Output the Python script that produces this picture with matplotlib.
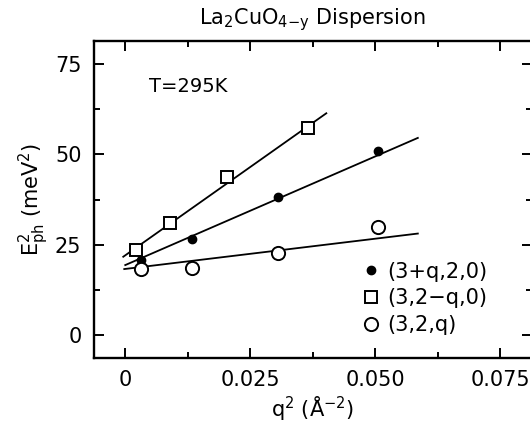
import matplotlib
matplotlib.use("Agg")
import matplotlib.pyplot as plt
import numpy as np
from matplotlib.ticker import MultipleLocator, FixedFormatter, FixedLocator

# data
filled_x = [0.0031, 0.0133, 0.0305, 0.0505]
filled_y = [20.9, 26.5, 38.2, 51.0]
square_x = [0.0021, 0.0090, 0.0204, 0.0365]
square_y = [23.5, 30.9, 43.8, 57.1]
open_x = [0.0031, 0.0133, 0.0305, 0.0505]
open_y = [18.4, 18.7, 22.6, 30.0]

# fit lines (endpoints)
fit_filled_x = [0.0000, 0.0585]
fit_filled_y = [19.4, 54.5]
fit_square_x = [-0.0004, 0.0402]
fit_square_y = [21.7, 61.3]
fit_open_x = [-0.0002, 0.0585]
fit_open_y = [18.3, 28.1]

labels = ["(3+q,2,0)", "(3,2\u2212q,0)", "(3,2,q)"]
xticks = [0, 0.025, 0.050, 0.075]
xticklabels = ["0", "0.025", "0.050", "0.075"]
yticks = [0, 25, 50, 75]
yticklabels = ["0", "25", "50", "75"]

plt.rcParams['font.family'] = ['DejaVu Sans']
plt.rcParams['mathtext.fontset'] = 'dejavusans'

fig = plt.figure(figsize=(5.30, 4.29), dpi=100)
ax = fig.add_axes([94/530, 1-358/429, (531.6-94)/530, (358-41)/429])

lw = 1.3
ax.plot(fit_filled_x, fit_filled_y, color='black', lw=lw)
ax.plot(fit_square_x, fit_square_y, color='black', lw=lw)
ax.plot(fit_open_x, fit_open_y, color='black', lw=lw)

h1, = ax.plot(filled_x, filled_y, 'o', ms=6, mfc='black', mec='black', ls='none', label=labels[0])
h2, = ax.plot(square_x, square_y, 's', ms=9, mfc='white', mec='black', mew=1.4, ls='none', label=labels[1])
h3, = ax.plot(open_x, open_y, 'o', ms=9.5, mfc='white', mec='black', mew=1.4, ls='none', label=labels[2])

ax.set_xlim(-0.00625, 0.08125)
ax.set_ylim(-6.25, 81.25)

ax.xaxis.set_major_locator(FixedLocator(xticks))
ax.xaxis.set_major_formatter(FixedFormatter(xticklabels))
ax.xaxis.set_minor_locator(MultipleLocator(0.0125))
ax.yaxis.set_major_locator(FixedLocator(yticks))
ax.yaxis.set_major_formatter(FixedFormatter(yticklabels))
ax.yaxis.set_minor_locator(MultipleLocator(12.5))

ax.tick_params(which='both', direction='in', top=True, right=True, labelsize=15, width=1.4)
ax.tick_params(which='major', length=7, pad=9)
ax.tick_params(which='minor', length=4)
for s in ax.spines.values():
    s.set_linewidth(1.7)

ax.set_title(r"La$_2$CuO$_{4\mathrm{-y}}$ Dispersion", fontsize=15, pad=12)
ax.set_xlabel(r"q$^2$ ($\mathrm{\AA}^{-2}$)", fontsize=15, labelpad=3)
ax.set_ylabel(r"E$_{\mathrm{ph}}^{2}$ (meV$^2$)", fontsize=15, labelpad=3)

ax.text(0.00475, 68.6, "T=295K", fontsize=14, va='center', ha='left')

leg = ax.legend(handles=[h1, h2, h3], loc='upper left', bbox_to_anchor=(0.59, 0.33),
                frameon=False, fontsize=15, handletextpad=0.3, labelspacing=0.32,
                handlelength=1.0, borderaxespad=0)

fig.savefig("out.png", dpi=100)
